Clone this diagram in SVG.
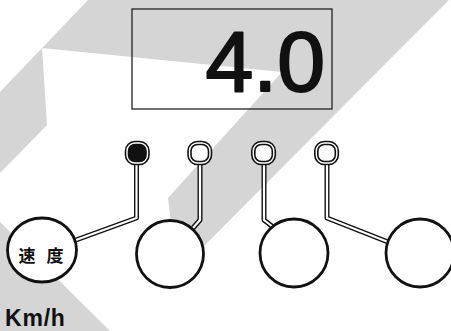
<svg xmlns="http://www.w3.org/2000/svg" width="451" height="331" viewBox="0 0 451 331">
<style>
.bg{fill:#d5d5d5;stroke:none}
.tubeO{fill:none;stroke:#111;stroke-width:5;stroke-linejoin:round;stroke-linecap:butt}
.tubeI{fill:none;stroke:#fff;stroke-width:2.2;stroke-linejoin:round;stroke-linecap:butt}
.ringO{fill:#fff;stroke:#111;stroke-width:4.6}
.ringF{fill:#111;stroke:#111;stroke-width:4.6}
.ringI{fill:none;stroke:#fff;stroke-width:1.4}
.knob{fill:#fff;stroke:#111;stroke-width:2.8}
.lbl{font-family:"Liberation Sans",Arial,sans-serif;fill:#111}
</style>
<rect width="451" height="331" fill="#fff"/>
<g id="background">
<polygon class="bg" points="88,0 449,0 177,273 168,198 282,72 42,48 47,125 0,173 0,92"/>
<polygon class="bg" points="0,222 110,331 0,331"/>
</g>
<g id="display">
<rect x="132" y="9" width="200" height="100" fill="none" stroke="#222" stroke-width="1.3"/>
<text class="lbl" x="325" y="91" font-size="86" text-anchor="end" stroke="#111" stroke-width="2" stroke-linejoin="round">4.0</text>
</g>
<g id="connectors">
<path class="tubeO" d="M136.5,164 V218 L76,240"/>
<path class="tubeI" d="M136.5,164 V218 L76,240"/>
<path class="tubeO" d="M200,164 V220 L193,228"/>
<path class="tubeI" d="M200,164 V220 L193,228"/>
<path class="tubeO" d="M264,164 V220 L273,227"/>
<path class="tubeI" d="M264,164 V220 L273,227"/>
<path class="tubeO" d="M327,164 V218 L388,242"/>
<path class="tubeI" d="M327,164 V218 L388,242"/>
</g>
<g id="indicator1">
<rect class="ringF" x="127" y="143" width="20.5" height="20" rx="8"/>
<rect class="ringI" x="127" y="143" width="20.5" height="20" rx="8"/>
</g>
<g id="indicator2">
<rect class="ringO" x="189.5" y="143" width="20.5" height="20" rx="8"/>
<rect class="ringI" x="189.5" y="143" width="20.5" height="20" rx="8"/>
</g>
<g id="indicator3">
<rect class="ringO" x="253.3" y="143" width="20.5" height="20" rx="8"/>
<rect class="ringI" x="253.3" y="143" width="20.5" height="20" rx="8"/>
</g>
<g id="indicator4">
<rect class="ringO" x="316.3" y="143" width="20.5" height="20" rx="8"/>
<rect class="ringI" x="316.3" y="143" width="20.5" height="20" rx="8"/>
</g>
<g id="knob1">
<ellipse class="knob" cx="42" cy="250" rx="34.5" ry="32"/>
<text x="41" y="262" font-family="'Noto Sans CJK SC','Noto Sans CJK JP',sans-serif" font-weight="bold" font-size="17" text-anchor="middle" fill="#111" xml:space="preserve" word-spacing="7">速 度</text>
</g>
<g id="knob2">
<circle class="knob" cx="170" cy="254" r="33.5"/>
</g>
<g id="knob3">
<circle class="knob" cx="294" cy="253" r="34"/>
</g>
<g id="knob4">
<circle class="knob" cx="420" cy="253" r="34"/>
</g>
<text class="lbl" x="5" y="326" font-size="23" font-weight="bold" letter-spacing="0.8">Km/h</text>
</svg>
